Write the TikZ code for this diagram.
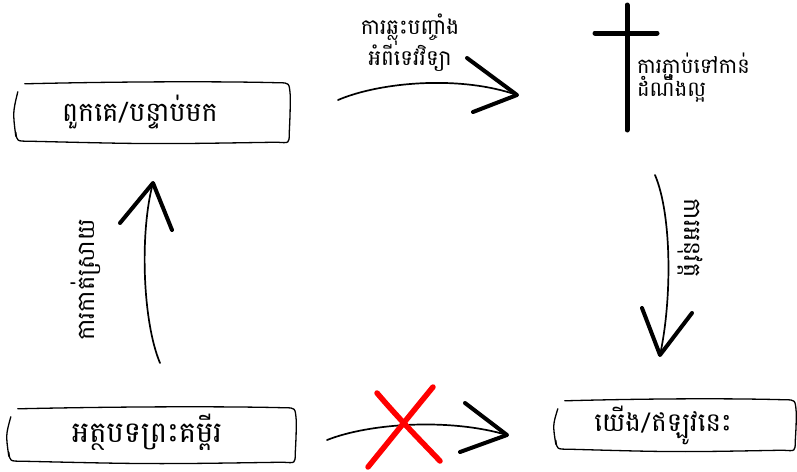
\documentclass[tikz,border=0pt]{standalone}
\usepackage{fontspec}
\newfontfamily\kh[Script=Khmer]{Battambang}
\usetikzlibrary{calc}
\newcommand\tightlines{\lineskiplimit-50pt\relax}
\tikzset{
 sketch/.style={line width=1.3pt, line cap=round, line join=round},
 body/.style={line width=1.7pt, line cap=round},
 headarm/.style={line width=4pt, line cap=round, line join=round},
 boxtext/.style={font=\kh\fontsize{27}{30}\selectfont, inner sep=0pt},
 lbl/.style={font={\kh\fontsize{21.5}{31}\selectfont\tightlines}, inner sep=0pt, align=center},
 lbltight/.style={font={\kh\fontsize{21}{23}\selectfont\tightlines}, inner sep=0pt, align=left},
 vlbl/.style={font=\kh\fontsize{24}{28}\selectfont, inner sep=0pt},
 frame/.style={draw=none, inner sep=0pt},
 redx/.style={line width=5.5pt, red, line cap=round},
 crossbar/.style={line width=5pt, line cap=round},
}
\newcommand\sketchframe[1]{%
 \draw[sketch] ($(#1.north west)+(10,1)$) .. controls ($(#1.north)+(0,-2)$) and ($(#1.north east)+(-40,-1)$) .. ($(#1.north east)+(-10,0)$) .. controls ($(#1.north east)+(0,0)$) .. ($(#1.north east)+(1,12)$) .. controls ($(#1.east)+(1,0)$) .. ($(#1.south east)+(0,-8)$) .. controls ($(#1.south east)+(0,1)$) .. ($(#1.south east)+(-12,0)$) .. controls ($(#1.south)+(0,2)$) .. ($(#1.south west)+(14,-1)$) .. controls ($(#1.south west)+(2,-1)$) .. ($(#1.south west)+(1,-10)$);
 \draw[sketch] ($(#1.north west)+(3,9)$) .. controls ($(#1.west)+(-2,0)$) .. ($(#1.south west)+(1,-6)$);
}
\begin{document}
\begin{tikzpicture}[x=1pt,y=-1pt]
\useasboundingbox (0,0) rectangle (797,471);
% frames
\node[frame, minimum width=274pt, minimum height=59pt] (f1) at (152,112.5) {};
\node[frame, minimum width=287pt, minimum height=54pt] (f2) at (151.5,435) {};
\node[frame, minimum width=240pt, minimum height=50pt] (f3) at (675,425) {};
\sketchframe{f1}\sketchframe{f2}\sketchframe{f3}
% texts
\node[boxtext] (t1) at (140,112) {ពួកគេ/បន្ទាប់មក};
\node[boxtext, font=\kh\fontsize{29}{30}\selectfont] (t2) at (147,432) {អត្ថបទព្រះគម្ពីរ};
\node[boxtext, font=\kh\fontsize{26}{30}\selectfont] (t3) at (663,425) {យើង/ឥឡូវនេះ};
\node[lbl] (l1) at (410,43) {ការឆ្លុះបញ្ចាំង\\អំពីទេវវិទ្យា};
\node[lbltight, anchor=west] (l2) at (637,78) {ការភ្ជាប់ទៅកាន់\\ដំណឹងល្អ};
\node[vlbl, rotate=-90] (l3) at (690,238) {ការអនុវត្ត};
\node[vlbl, rotate=90] (l4) at (86,280) {ការកាត់ស្រាយ};
% cross
\coordinate (cv1) at (627,5); \coordinate (cv2) at (627,130);
\coordinate (ch1) at (595,33); \coordinate (ch2) at (657,33);
\draw[crossbar] (cv1) -- (cv2);
\draw[crossbar] (ch1) -- (ch2);
% top arrow
\coordinate (a1s) at (338,100); \coordinate (a1t) at (517,95);
\coordinate (a1u) at (467,58); \coordinate (a1d) at (473,112);
\draw[body] (a1s) .. controls (380,82) and (460,75) .. (a1t);
\draw[headarm] (a1u) -- (a1t) -- (a1d);
% right arrow
\coordinate (a2s) at (655,175); \coordinate (a2t) at (660,355);
\coordinate (a2u) at (642,308); \coordinate (a2d) at (692,313);
\draw[body] (a2s) .. controls (672,215) and (672,300) .. (a2t);
\draw[headarm] (a2u) -- (a2t) -- (a2d);
% left arrow
\coordinate (a3s) at (160,363); \coordinate (a3t) at (153,183);
\coordinate (a3u) at (120,223); \coordinate (a3d) at (172,230);
\draw[body] (a3s) .. controls (142,320) and (140,230) .. (a3t);
\draw[headarm] (a3u) -- (a3t) -- (a3d);
% bottom arrow
\coordinate (a4s) at (327,440); \coordinate (a4t) at (507,435);
\coordinate (a4u) at (465,403); \coordinate (a4d) at (460,452);
\draw[body] (a4s) .. controls (370,423) and (450,418) .. (a4t);
\draw[headarm] (a4u) -- (a4t) -- (a4d);
% red X
\coordinate (x1a) at (377,393); \coordinate (x1b) at (440,461);
\coordinate (x2a) at (433,387); \coordinate (x2b) at (368,467);
\draw[redx] (x1a) .. controls (400,420) and (420,440) .. (x1b);
\draw[redx] (x2a) .. controls (410,415) and (390,440) .. (x2b);
\end{tikzpicture}
\end{document}
